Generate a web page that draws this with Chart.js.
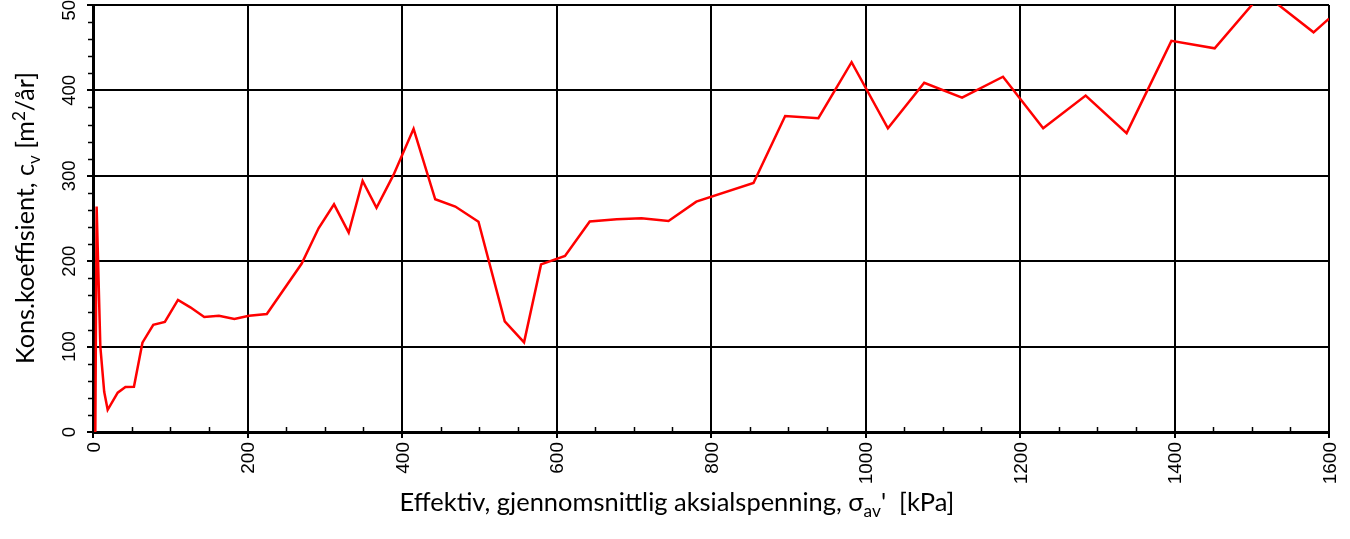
<!DOCTYPE html>
<html>
<head>
<meta charset="utf-8">
<title>Kons.koeffisient</title>
<script src="https://cdn.jsdelivr.net/npm/chart.js@4.4.1/dist/chart.umd.min.js"></script>
<style>
    html, body { margin: 0; padding: 0; background: #ffffff; }
    #wrap { width: 1350px; height: 539px; position: relative; }
</style>
</head>
<body>
<div id="wrap"><canvas id="cvChart" width="1350" height="539"></canvas></div>
<script>
// ===== DATA =====
const stressValues = [3, 4.7, 9.5, 14.5, 19, 32, 42, 53, 64, 78, 93, 110, 126, 144, 163, 183, 202, 225,
    270, 292, 312, 331, 349, 367, 389, 415, 443, 469, 499, 533, 558, 580, 611, 643, 678, 710, 745,
    781, 855, 896, 939, 982, 1029, 1076, 1125, 1178, 1230, 1285, 1338, 1396, 1452, 1502, 1532, 1580, 1600];
const cvValues = [0, 264, 100, 47, 26, 46, 52.7, 53, 104.6, 125.6, 128.8, 154.6, 146, 134.7, 136.2, 132.3, 136.2, 138.2,
    197, 238.5, 266.6, 233.4, 294, 262.6, 301, 355, 272.5, 264, 246.3, 129.5, 105, 196.3, 206.2, 246.5, 249, 250.2, 247,
    269.7, 291.5, 370, 367.5, 433, 355.6, 409, 391.5, 416, 355.6, 394, 350, 458, 449.3, 502, 502, 468, 484];

const xTickLabels = ['0', '200', '400', '600', '800', '1000', '1200', '1400', '1600'];
const yTickLabels = ['0', '100', '200', '300', '400', '500'];

const xTitleParts = [
    { t: 'Effektiv, gjennomsnittlig aksialspenning, ' },
    { t: '\u03c3' },
    { t: 'av', sub: true },
    { t: "'  [kPa]" }
];
const yTitleParts = [
    { t: 'Kons.koeffisient, c' },
    { t: 'v', sub: true },
    { t: ' [m' },
    { t: '2', sup: true },
    { t: '/\u00e5r]' }
];

// ===== HELPERS =====
const TITLE_FONT = 'Lato, "Open Sans", sans-serif';
const TICK_FONT = '"Liberation Sans", Arial, sans-serif';

function richWidth(ctx, parts, size) {
    let w = 0;
    parts.forEach(p => {
        const s = (p.sub || p.sup) ? size * 0.68 : size;
        ctx.font = s + 'px ' + TITLE_FONT;
        w += ctx.measureText(p.t).width;
    });
    return w;
}

// draws text pieces left to right starting at x = 0 on baseline y = 0 (in current transform)
function drawRich(ctx, parts, size) {
    let x = 0;
    parts.forEach(p => {
        const s = (p.sub || p.sup) ? size * 0.68 : size;
        ctx.font = s + 'px ' + TITLE_FONT;
        let dy = 0;
        if (p.sub) dy = size * 0.22;
        if (p.sup) dy = -size * 0.36;
        ctx.fillText(p.t, x, dy);
        x += ctx.measureText(p.t).width;
    });
}

function fitSize(ctx, parts, target) {
    return 100 * target / richWidth(ctx, parts, 100);
}

// ===== AXIS DECORATION PLUGIN =====
const axisDecor = {
    id: 'axisDecor',
    afterDraw(chart) {
        const ctx = chart.ctx;
        const xs = chart.scales.x;
        const ys = chart.scales.y;
        const area = chart.chartArea;

        ctx.save();
        ctx.strokeStyle = '#000000';
        ctx.lineWidth = 1.5;

        // minor ticks on x (inside)
        for (let v = 50; v < 1600; v += 50) {
            if (v % 200 === 0) continue;
            const px = Math.round(xs.getPixelForValue(v)) + 0.5;
            ctx.beginPath();
            ctx.moveTo(px, area.bottom);
            ctx.lineTo(px, area.bottom - 5);
            ctx.stroke();
        }
        // minor ticks on y (outside)
        for (let v = 20; v < 500; v += 20) {
            if (v % 100 === 0) continue;
            const py = Math.round(ys.getPixelForValue(v)) + 0.5;
            ctx.beginPath();
            ctx.moveTo(area.left, py);
            ctx.lineTo(area.left - 5, py);
            ctx.stroke();
        }

        ctx.fillStyle = '#000000';
        ctx.textBaseline = 'alphabetic';

        // y tick labels, rotated
        const ySize = 18.5;
        ctx.font = ySize + 'px ' + TICK_FONT;
        ctx.textAlign = 'center';
        yTickLabels.forEach(lbl => {
            const py = ys.getPixelForValue(Number(lbl));
            ctx.save();
            ctx.translate(area.left - 18, py);
            ctx.rotate(-Math.PI / 2);
            ctx.fillText(lbl, 0, 0);
            ctx.restore();
        });

        // x tick labels, rotated
        const xSize = 19;
        ctx.font = xSize + 'px ' + TICK_FONT;
        ctx.textAlign = 'right';
        xTickLabels.forEach(lbl => {
            const px = xs.getPixelForValue(Number(lbl));
            ctx.save();
            ctx.translate(px + xSize * 0.36, area.bottom + 10);
            ctx.rotate(-Math.PI / 2);
            ctx.fillText(lbl, 0, 0);
            ctx.restore();
        });

        // axis titles
        ctx.textAlign = 'left';
        const xt = fitSize(ctx, xTitleParts, 555);
        const xw = richWidth(ctx, xTitleParts, xt);
        ctx.save();
        ctx.translate(677 - xw / 2, 511);
        drawRich(ctx, xTitleParts, xt);
        ctx.restore();

        const yt = fitSize(ctx, yTitleParts, 292);
        const yw = richWidth(ctx, yTitleParts, yt);
        ctx.save();
        ctx.translate(34, 218 + yw / 2);
        ctx.rotate(-Math.PI / 2);
        drawRich(ctx, yTitleParts, yt);
        ctx.restore();

        ctx.restore();
    }
};

// ===== INITIALIZE CHART =====
const points = stressValues.map((x, i) => ({ x: x, y: cvValues[i] }));

new Chart(document.getElementById('cvChart'), {
    type: 'scatter',
    data: {
        datasets: [{
            data: points,
            showLine: true,
            borderColor: '#ff0000',
            backgroundColor: '#ff0000',
            borderWidth: 2.5,
            pointRadius: 0,
            tension: 0
        }]
    },
    options: {
        responsive: false,
        animation: false,
        devicePixelRatio: 1,
        layout: {
            padding: { left: 87, right: 21, top: 5, bottom: 101 }
        },
        plugins: {
            legend: { display: false },
            tooltip: { enabled: false }
        },
        scales: {
            x: {
                type: 'linear',
                min: 0,
                max: 1600,
                ticks: { stepSize: 200, display: false },
                grid: { color: '#000000', lineWidth: 2, tickLength: 6, tickColor: '#000000' },
                border: { display: true, color: '#000000', width: 3 }
            },
            y: {
                type: 'linear',
                min: 0,
                max: 500,
                ticks: { stepSize: 100, display: false },
                grid: { color: '#000000', lineWidth: 2, tickLength: 6, tickColor: '#000000' },
                border: { display: true, color: '#000000', width: 3 }
            }
        }
    },
    plugins: [axisDecor]
});
</script>
</body>
</html>
